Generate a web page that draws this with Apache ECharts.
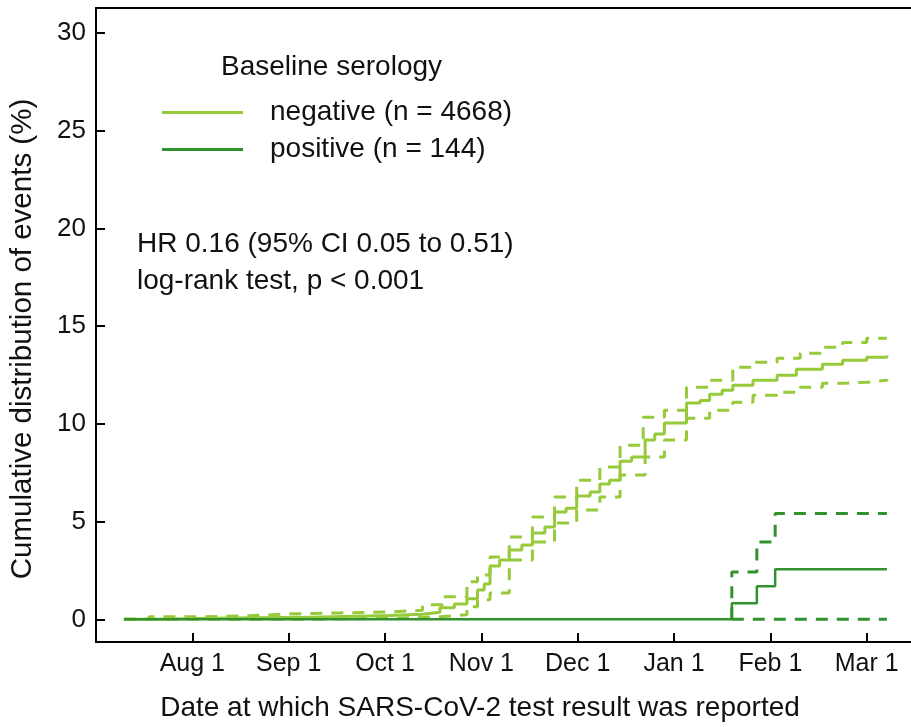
<!DOCTYPE html>
<html>
<head>
<meta charset="utf-8">
<script src="https://cdn.jsdelivr.net/npm/echarts@6/dist/echarts.min.js"></script>
<style>
  html, body { margin: 0; padding: 0; background: #fff; }
  #main { width: 911px; height: 727px; }
</style>
</head>
<body>
<div id="main"></div>
<script>
// x = months since Jul 1 (Aug 1 = 1 ... Mar 1 = 8), y = cumulative events (%)
var monthTicks = [1, 2, 3, 4, 5, 6, 7, 8];
var monthLabels = ['Aug 1', 'Sep 1', 'Oct 1', 'Nov 1', 'Dec 1', 'Jan 1', 'Feb 1', 'Mar 1'];
var yTicks = [0, 5, 10, 15, 20, 25, 30];

// baseline serology negative
var negEst = [
  [0.29, 0], [0.66, 0.05], [1.18, 0.08], [1.70, 0.1], [2.11, 0.15], [2.58, 0.2],
  [3.05, 0.26], [3.39, 0.36], [3.57, 0.59], [3.72, 0.79], [3.85, 1.05], [3.96, 1.5],
  [4.03, 1.81], [4.09, 2.73], [4.19, 3.04], [4.29, 3.55], [4.42, 3.8], [4.53, 4.42],
  [4.66, 4.72], [4.76, 5.49], [4.88, 5.69], [4.99, 6.31], [5.13, 6.51], [5.23, 6.92],
  [5.33, 7.12], [5.44, 8.09], [5.56, 8.3], [5.70, 9.17], [5.80, 9.48], [5.90, 10.04],
  [6.13, 11.07], [6.27, 11.2], [6.37, 11.52], [6.50, 11.72], [6.61, 11.98], [6.82, 12.23],
  [7.07, 12.49], [7.27, 12.8], [7.54, 13.05], [7.75, 13.26], [8.00, 13.41], [8.21, 13.5]
];
var negUpper = [
  [0.29, 0], [0.55, 0.13], [1.07, 0.18], [1.59, 0.28], [2.01, 0.33], [2.53, 0.38],
  [3.05, 0.46], [3.39, 0.74], [3.60, 1.15], [3.85, 1.92], [3.96, 2.27], [4.09, 3.19],
  [4.29, 4.21], [4.53, 5.24], [4.76, 6.26], [4.99, 7.12], [5.23, 7.79], [5.44, 8.91],
  [5.68, 10.34], [5.90, 10.7], [6.13, 11.88], [6.37, 12.23], [6.61, 12.9], [6.82, 13.15],
  [7.07, 13.36], [7.31, 13.61], [7.54, 13.92], [7.75, 14.17], [8.00, 14.38], [8.21, 14.38]
];
var negLower = [
  [0.29, 0], [2.11, 0.02], [2.63, 0.07], [3.15, 0.13], [3.57, 0.23], [3.85, 0.64],
  [3.96, 1.0], [4.09, 1.35], [4.29, 3.04], [4.53, 3.96], [4.76, 4.93], [4.99, 5.59],
  [5.23, 6.26], [5.44, 7.38], [5.70, 8.3], [5.90, 9.17], [6.13, 10.29], [6.37, 10.7],
  [6.61, 11.11], [6.82, 11.47], [7.07, 11.62], [7.31, 11.88], [7.54, 12.08], [7.75, 12.13],
  [8.00, 12.23], [8.21, 12.28]
];

// baseline serology positive
var posEst = [[0.29, 0], [6.60, 0.82], [6.86, 1.69], [7.05, 2.56], [8.21, 2.56]];
var posUpper = [[6.60, 0], [6.60, 2.42], [6.86, 3.96], [7.05, 5.42], [8.21, 5.42]];
var posLower = [[6.60, 0], [8.21, 0]];

var lightGreen = '#96ca3a';
var darkGreen = '#31922f';
var fontFamily = 'Liberation Sans, Arial, sans-serif';
var textColor = '#111';

function km(name, data, color, dashed, width) {
  return {
    name: name,
    type: 'line',
    step: 'end',
    data: data,
    showSymbol: false,
    symbol: 'none',
    color: color,
    lineStyle: { color: color, width: width || 3, type: dashed ? [12, 9] : 'solid' },
    silent: true
  };
}

var chart = echarts.init(document.getElementById('main'));
chart.setOption({
  animation: false,
  backgroundColor: '#fff',
  grid: { left: 96, right: 0, top: 8, bottom: 85 },
  textStyle: { fontFamily: fontFamily },
  legend: {
    data: ['negative (n = 4668)', 'positive (n = 144)'],
    orient: 'vertical',
    left: 162,
    top: 97,
    padding: 0,
    icon: 'rect',
    itemWidth: 81,
    itemHeight: 3,
    itemGap: 6,
    selectedMode: false,
    textStyle: { fontSize: 28, color: textColor, lineHeight: 28, padding: [3, 0, 0, 22], fontFamily: fontFamily }
  },
  xAxis: [{
    type: 'value',
    min: 0,
    max: 8.46,
    position: 'bottom',
    axisLine: { onZero: false, lineStyle: { color: '#000', width: 2 } },
    axisTick: { inside: true, length: 9, customValues: monthTicks, lineStyle: { color: '#000', width: 2 } },
    axisLabel: {
      customValues: monthTicks,
      margin: 10,
      fontSize: 25,
      color: textColor,
      fontFamily: fontFamily,
      formatter: function (v) { return monthLabels[Math.round(v) - 1]; }
    },
    splitLine: { show: false }
  }, {
    type: 'value',
    min: 0,
    max: 8.46,
    position: 'top',
    axisLine: { onZero: false, lineStyle: { color: '#000', width: 2 } },
    axisTick: { show: false },
    axisLabel: { show: false },
    splitLine: { show: false }
  }],
  yAxis: {
    type: 'value',
    min: -1.16,
    max: 31.28,
    axisLine: { onZero: false, lineStyle: { color: '#000', width: 2 } },
    axisTick: { inside: true, length: 9, customValues: yTicks, lineStyle: { color: '#000', width: 2 } },
    axisLabel: { customValues: yTicks, margin: 10, fontSize: 26, color: textColor, fontFamily: fontFamily },
    splitLine: { show: false }
  },
  graphic: [
    { type: 'text', style: { x: 221, y: 67, text: 'Baseline serology', font: '28px ' + fontFamily, fill: textColor, verticalAlign: 'middle' } },
    { type: 'text', style: { x: 137, y: 244, text: 'HR 0.16 (95% CI 0.05 to 0.51)', font: '28px ' + fontFamily, fill: textColor, verticalAlign: 'middle' } },
    { type: 'text', style: { x: 137, y: 281, text: 'log-rank test, p < 0.001', font: '28px ' + fontFamily, fill: textColor, verticalAlign: 'middle' } },
    { type: 'text', style: { x: 480, y: 708, text: 'Date at which SARS-CoV-2 test result was reported', font: '28px ' + fontFamily, fill: textColor, align: 'center', verticalAlign: 'middle' } },
    { type: 'text', x: 23, y: 339, rotation: Math.PI / 2, style: { x: 0, y: 0, text: 'Cumulative distribution of events (%)', font: '29.5px ' + fontFamily, fill: textColor, align: 'center', verticalAlign: 'middle' } }
  ],
  series: [
    km('neg-lower', negLower, lightGreen, true),
    km('neg-upper', negUpper, lightGreen, true),
    km('negative (n = 4668)', negEst, lightGreen, false),
    km('pos-lower', posLower, darkGreen, true),
    km('pos-upper', posUpper, darkGreen, true),
    km('positive (n = 144)', posEst, darkGreen, false, 2.5)
  ]
});
</script>
</body>
</html>
